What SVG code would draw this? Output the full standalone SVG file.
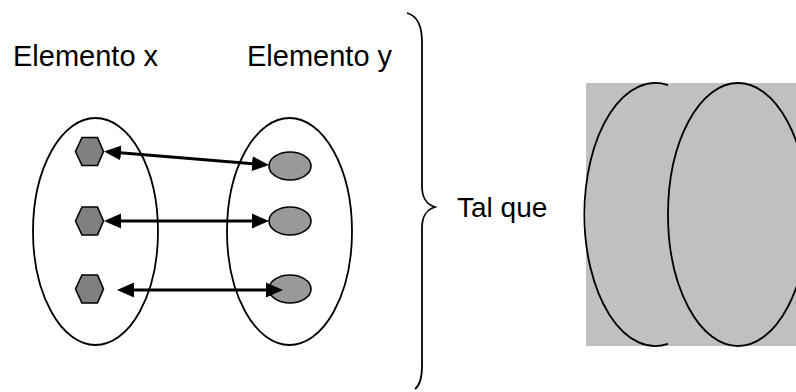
<svg xmlns="http://www.w3.org/2000/svg" width="796" height="392" viewBox="0 0 796 392">
  <style>
    .lbl { font-family: "Liberation Sans", Arial, sans-serif; font-size: 28px; fill: #000; }
    .big { font-size: 29px; }
    .set { fill: none; stroke: #000; stroke-width: 1.8; }
    .hex { fill: #808080; stroke: #000; stroke-width: 1.6; }
    .dot { fill: #999999; stroke: #000; stroke-width: 1.6; }
    .arr { stroke: #000; stroke-width: 3; fill: none; marker-start: url(#ah); marker-end: url(#ah); }
  </style>
  <defs>
    <marker id="ah" markerUnits="userSpaceOnUse" markerWidth="17" markerHeight="16" refX="13" refY="8" orient="auto-start-reverse" viewBox="0 0 17 16">
      <path d="M0,0.5 L17,8 L0,15.5 z" fill="#000"/>
    </marker>
  </defs>
  <rect width="796" height="392" fill="#fff"/>

  <g id="label-x"><text class="lbl big" x="13" y="66">Elemento x</text></g>
  <g id="label-y"><text class="lbl big" x="247" y="66">Elemento y</text></g>

  <g id="set-x"><ellipse class="set" cx="95.5" cy="231.5" rx="62.5" ry="113.5"/></g>
  <g id="set-y"><ellipse class="set" cx="289.5" cy="231.5" rx="62.5" ry="113.5"/></g>

  <g id="x1"><polygon class="hex" points="75.5,151.5 82,137.5 97.5,137.5 103.5,151.5 97.5,165.5 82,165.5"/></g>
  <g id="x2"><polygon class="hex" points="75.5,221 82,207 97.5,207 103.5,221 97.5,235 82,235"/></g>
  <g id="x3"><polygon class="hex" points="75.5,289 82,275 97.5,275 103.5,289 97.5,303 82,303"/></g>

  <g id="y1"><ellipse class="dot" cx="290" cy="166" rx="21" ry="14"/></g>
  <g id="y2"><ellipse class="dot" cx="290" cy="221" rx="21" ry="14"/></g>
  <g id="y3"><ellipse class="dot" cx="290" cy="289" rx="21" ry="14"/></g>

  <g id="connectors">
    <line class="arr" x1="108" y1="151.8" x2="265" y2="164.7"/>
    <line class="arr" x1="108" y1="221" x2="265" y2="221"/>
    <line class="arr" x1="121" y1="290" x2="279" y2="290"/>
  </g>

  <g id="brace">
    <path class="set" d="M407,13 C418,16 422,26 422,42 L422,186 C422,198 426,204 435,207 C426,210 422,216 422,228 L422,366 C422,380 419,386 415,389"/>
  </g>
  <g id="label-tal"><text class="lbl" x="457" y="217">Tal que</text></g>

  <g id="venn">
    <rect x="586" y="83" width="210" height="263" fill="#C0C0C0"/>
    <path class="set" d="M668,85.1 A71,131.5 0 1 0 668,343.9"/>
    <ellipse class="set" cx="738" cy="214.5" rx="70" ry="131.5"/>
  </g>
</svg>
